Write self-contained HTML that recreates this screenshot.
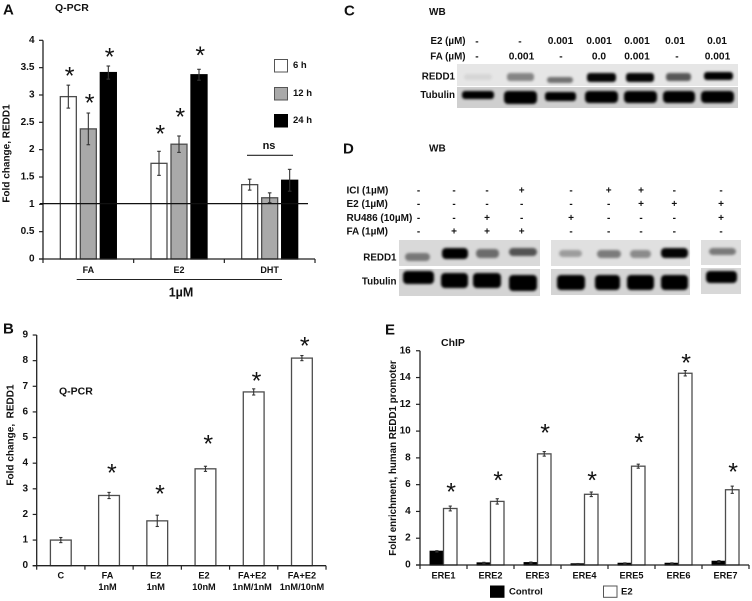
<!DOCTYPE html>
<html lang="en">
<head>
<meta charset="utf-8">
<title>REDD1 figure</title>
<style>
html,body{margin:0;padding:0;background:#fff;}
svg{display:block;font-family:"Liberation Sans",sans-serif;font-weight:bold;fill:#111;filter:blur(0.35px);}
text{dominant-baseline:central;}
.star{font-weight:normal;}
</style>
</head>
<body>
<svg id="figure" width="752" height="601" viewBox="0 0 752 601">
<defs>
<filter id="soft" x="-30%" y="-60%" width="160%" height="220%"><feGaussianBlur stdDeviation="1.3"/></filter>
</defs>

<!-- Panel letters and titles -->
<text x="3" y="10" font-size="15">A</text>
<text x="55" y="8" font-size="10.5">Q-PCR</text>
<text x="3" y="329" font-size="15">B</text>
<text x="59" y="391.5" font-size="10.5">Q-PCR</text>
<text x="344" y="11" font-size="15">C</text>
<text x="429" y="12.5" font-size="10">WB</text>
<text x="343" y="149" font-size="15">D</text>
<text x="429" y="149" font-size="10">WB</text>
<text x="385" y="330" font-size="15">E</text>
<text x="441" y="343" font-size="10.5">ChIP</text>

<!-- Panel C blot -->
<g>
<text x="465.5" y="41.5" font-size="9.8" text-anchor="end">E2 (µM)</text>
<text x="465.5" y="57" font-size="9.8" text-anchor="end">FA (µM)</text>
<g font-size="10.2" text-anchor="middle">
<text x="477" y="42">-</text>
<text x="520" y="42">-</text>
<text x="560.5" y="41.5">0.001</text>
<text x="599" y="41.5">0.001</text>
<text x="637" y="41.5">0.001</text>
<text x="675" y="41.5">0.01</text>
<text x="717" y="41.5">0.01</text>
</g>
<g font-size="10.2" text-anchor="middle">
<text x="477" y="57">-</text>
<text x="521.5" y="57">0.001</text>
<text x="561" y="57">-</text>
<text x="599" y="57">0.0</text>
<text x="637" y="57">0.001</text>
<text x="677" y="57">-</text>
<text x="717.5" y="57">0.001</text>
</g>
<text x="455" y="77" font-size="9.8" text-anchor="end">REDD1</text>
<text x="455" y="95.5" font-size="9.8" text-anchor="end">Tubulin</text>
<rect x="457" y="64" width="281" height="22" fill="#e6e6e6"/>
<rect x="457" y="87" width="281" height="21" fill="#cfcfcf"/>
<g filter="url(#soft)" fill="#000">
<rect x="464" y="74" width="28" height="6" rx="3" opacity=".07"/>
<rect x="507" y="73" width="27" height="8" rx="3" opacity=".42"/>
<rect x="547" y="77" width="26" height="6" rx="3" opacity=".5"/>
<rect x="587" y="73" width="29" height="9" rx="3" opacity=".98"/>
<rect x="626" y="73" width="28" height="9" rx="3" opacity=".98"/>
<rect x="666" y="73" width="25" height="8" rx="3" opacity=".62"/>
<rect x="704" y="72" width="29" height="8" rx="3" opacity="1"/>
</g>
<g filter="url(#soft)" fill="#000">
<rect x="462" y="91" width="32" height="8" rx="3"/>
<rect x="504" y="91" width="33" height="13" rx="4"/>
<rect x="545" y="92" width="31" height="9" rx="3"/>
<rect x="585" y="91" width="33" height="12" rx="4"/>
<rect x="624" y="91" width="33" height="12" rx="4"/>
<rect x="663" y="91" width="32" height="12" rx="4"/>
<rect x="701" y="91" width="33" height="12" rx="4"/>
</g>
</g>

<!-- Panel D blot -->
<g>
<g font-size="10">
<text x="346.5" y="191">ICI (1µM)</text>
<text x="346.5" y="204.7">E2 (1µM)</text>
<text x="346.5" y="218.3">RU486 (10µM)</text>
<text x="346.5" y="232">FA (1µM)</text>
</g>
<g font-size="10" text-anchor="middle">
<text x="418.5" y="191">-</text><text x="454" y="191">-</text><text x="487" y="191">-</text><text x="521.7" y="191">+</text><text x="571" y="191">-</text><text x="608.7" y="191">+</text><text x="641" y="191">+</text><text x="674.3" y="191">-</text><text x="721" y="191">-</text>
<text x="418.5" y="204.7">-</text><text x="454" y="204.7">-</text><text x="487" y="204.7">-</text><text x="521.7" y="204.7">-</text><text x="571" y="204.7">-</text><text x="608.7" y="204.7">-</text><text x="641" y="204.7">+</text><text x="674.3" y="204.7">+</text><text x="721" y="204.7">+</text>
<text x="418.5" y="218.3">-</text><text x="454" y="218.3">-</text><text x="487" y="218.3">+</text><text x="521.7" y="218.3">-</text><text x="571" y="218.3">+</text><text x="608.7" y="218.3">-</text><text x="641" y="218.3">-</text><text x="674.3" y="218.3">-</text><text x="721" y="218.3">+</text>
<text x="418.5" y="232">-</text><text x="454" y="232">+</text><text x="487" y="232">+</text><text x="521.7" y="232">+</text><text x="571" y="232">-</text><text x="608.7" y="232">-</text><text x="641" y="232">-</text><text x="674.3" y="232">-</text><text x="721" y="232">-</text>
</g>
<text x="396.5" y="258" font-size="9.8" text-anchor="end">REDD1</text>
<text x="396.5" y="282" font-size="9.8" text-anchor="end">Tubulin</text>
<rect x="399" y="240" width="141" height="26" fill="#d9d9d9"/>
<rect x="399" y="269" width="141" height="27" fill="#d4d4d4"/>
<rect x="551" y="240" width="139" height="26" fill="#e0e0e0"/>
<rect x="551" y="269" width="139" height="26" fill="#d4d4d4"/>
<rect x="701" y="240" width="40" height="25" fill="#dedede"/>
<rect x="701" y="268" width="40" height="26" fill="#d8d8d8"/>
<g filter="url(#soft)" fill="#000">
<rect x="405" y="253" width="25" height="8" rx="4" opacity=".45"/>
<rect x="442" y="248" width="26" height="11" rx="4" opacity="1"/>
<rect x="476" y="249" width="23" height="9" rx="4" opacity=".5"/>
<rect x="509" y="248" width="28" height="8" rx="4" opacity=".62"/>
<rect x="559" y="250" width="23" height="7" rx="4" opacity=".3"/>
<rect x="597" y="250" width="24" height="8" rx="4" opacity=".45"/>
<rect x="630" y="250" width="21" height="8" rx="4" opacity=".38"/>
<rect x="661" y="248" width="27" height="10" rx="4" opacity=".98"/>
<rect x="709" y="248" width="27" height="7" rx="4" opacity=".45"/>
</g>
<g filter="url(#soft)" fill="#000">
<rect x="403" y="271" width="31" height="13" rx="4"/>
<rect x="441" y="273" width="27" height="15" rx="4"/>
<rect x="473" y="273" width="28" height="15" rx="4"/>
<rect x="509" y="275" width="28" height="16" rx="4"/>
<rect x="557" y="275" width="28" height="15" rx="4"/>
<rect x="595" y="275" width="25" height="15" rx="4"/>
<rect x="627" y="275" width="27" height="15" rx="4"/>
<rect x="661" y="275" width="27" height="15" rx="4"/>
<rect x="706" y="271" width="31" height="12" rx="4"/>
</g>
</g>
</svg>

<script>
// Panel A data
const catsA = ['FA', 'E2', 'DHT'];
const ticksA = [0, 0.5, 1, 1.5, 2, 2.5, 3, 3.5, 4];
const seriesA6h = [2.97, 1.75, 1.36];
const seriesA12h = [2.38, 2.10, 1.12];
const seriesA24h = [3.41, 3.37, 1.44];
const errA6h = [0.21, 0.22, 0.10];
const errA12h = [0.29, 0.15, 0.09];
const errA24h = [0.12, 0.10, 0.20];
const starGapA6h = [0.24, 0.39, null];
const starGapA12h = [0.26, 0.42, null];
const starGapA24h = [0.24, 0.33, null];
const refLevelA = 1;

// Panel B data
const catsB1 = ['C', 'FA', 'E2', 'E2', 'FA+E2', 'FA+E2'];
const catsB2 = ['', '1nM', '1nM', '10nM', '1nM/1nM', '1nM/10nM'];
const ticksB = [0, 1, 2, 3, 4, 5, 6, 7, 8, 9];
const valuesB = [1.0, 2.74, 1.75, 3.78, 6.78, 8.10];
const errB = [0.10, 0.12, 0.22, 0.10, 0.12, 0.10];
const starGapB = [null, 0.91, 0.98, 1.02, 0.46, 0.54];

// Panel E data
const catsE = ['ERE1', 'ERE2', 'ERE3', 'ERE4', 'ERE5', 'ERE6', 'ERE7'];
const ticksE = [0, 2, 4, 6, 8, 10, 12, 14, 16];
const valuesControl = [1.02, 0.15, 0.17, 0.08, 0.12, 0.12, 0.27];
const valuesE2 = [4.22, 4.75, 8.30, 5.28, 7.38, 14.32, 5.62];
const errControl = [0.05, 0.05, 0.05, 0.03, 0.04, 0.04, 0.06];
const errE2 = [0.18, 0.20, 0.17, 0.17, 0.15, 0.20, 0.27];
const starGapE = [1.37, 1.67, 1.69, 1.17, 1.94, 0.88, 1.36];

const NS = 'http://www.w3.org/2000/svg';
const svg = document.getElementById('figure');

function make(tag, attrs, parent) {
  const el = document.createElementNS(NS, tag);
  for (const k in attrs) el.setAttribute(k, attrs[k]);
  parent.appendChild(el);
  return el;
}
function group(name) {
  const g = make('g', {}, svg);
  
  
  return g;
}
function line(parent, x1, y1, x2, y2, name, color, width) {
  const el = make('line', {x1: x1, y1: y1, x2: x2, y2: y2, stroke: color, 'stroke-width': width}, parent);
  
  
  return el;
}
function label(parent, x, y, str, size, anchor, name) {
  const el = make('text', {x: x, y: y, 'font-size': size, 'text-anchor': anchor}, parent);
  el.textContent = str;
  
  
  return el;
}
function drawBar(parent, x, w, yTop, yBase, fill, name) {
  const el = make('rect', {x: x, y: yTop, width: w, height: Math.max(0, yBase - yTop), fill: fill, stroke: fill === '#000' ? '#000' : '#4d4d4d', 'stroke-width': 1.3}, parent);
  
  
  return el;
}
function drawError(parent, cx, yHi, yLo, cap, name) {
  line(parent, cx, yHi, cx, yLo, name, '#333', 1.1);
  line(parent, cx - cap, yHi, cx + cap, yHi, name + '-cap', '#333', 1.1);
  line(parent, cx - cap, yLo, cx + cap, yLo, name + '-cap', '#333', 1.1);
}
function drawStar(parent, cx, cy, name) {
  const el = make('text', {x: cx, y: cy + 4.6, 'font-size': 25, 'text-anchor': 'middle', 'class': 'star'}, parent);
  el.textContent = '*';
  
  
}
function drawAxes(parent, x0, xEnd, y0, ticks, yFn, nCats, bandFn, labelEnd, tickSize) {
  line(parent, x0, yFn(ticks[ticks.length - 1]), x0, y0, 'y-axis-line', '#222', 1.3);
  line(parent, x0 - 4, y0, xEnd, y0, 'x-axis-line', '#222', 1.3);
  ticks.forEach(function (t) {
    line(parent, x0 - 4, yFn(t), x0, yFn(t), 'y-tick', '#222', 1.2);
    label(parent, labelEnd, yFn(t), String(t), tickSize, 'end', 'y-tick-label');
  });
  for (let i = 0; i <= nCats; i++) {
    line(parent, bandFn(i), y0, bandFn(i), y0 + 4, 'x-tick', '#222', 1.2);
  }
}

// ---------- Panel A ----------
const xBandA = function (i) { return 43 + 90.67 * i; };
const yA = function (v) { return 259 - 54.67 * v; };
const gA = group('panel-a-chart');
const seriesDefsA = [
  {vals: seriesA6h, err: errA6h, gap: starGapA6h, fill: '#fff', off: -20, key: '6h'},
  {vals: seriesA12h, err: errA12h, gap: starGapA12h, fill: '#a9a9a9', off: 0, key: '12h'},
  {vals: seriesA24h, err: errA24h, gap: starGapA24h, fill: '#000', off: 20, key: '24h'}
];
seriesDefsA.forEach(function (s) {
  s.vals.forEach(function (v, i) {
    const cx = xBandA(i) + 45.33 + s.off;
    drawBar(gA, cx - 8, 16, yA(v), yA(0), s.fill, 'bar-' + catsA[i].toLowerCase() + '-' + s.key);
    drawError(gA, cx, yA(v + s.err[i]), yA(v - s.err[i]), 1.8, 'error-bar');
    if (s.gap[i] !== null) drawStar(gA, cx + 1.3, yA(v + s.err[i] + s.gap[i]), 'significance-star');
  });
});
drawAxes(gA, 43, 315, yA(0), ticksA, yA, 3, xBandA, 34.5, 10);
line(gA, 40, yA(refLevelA) - 0.7, 308, yA(refLevelA) - 0.7, 'baseline-reference-line', '#111', 1.2);
catsA.forEach(function (c, i) {
  label(gA, xBandA(i) + 45.33, 270, c, 9, 'middle', 'x-category-label');
});
line(gA, 76.7, 279.5, 282, 279.5, 'concentration-bracket', '#222', 1.1);
label(gA, 181, 292.5, '1µM', 12.5, 'middle', 'concentration-label');
label(gA, 269, 146, 'ns', 11, 'middle', 'not-significant-label');
line(gA, 247, 155.3, 293, 155.3, 'not-significant-line', '#222', 1.1);
const ytA = label(gA, 0, 0, 'Fold change, REDD1', 10, 'middle', 'y-axis-title');
ytA.setAttribute('transform', 'translate(7 153.5) rotate(-90)');

[['#fff', 59, '6 h', 'legend-6h'], ['#a9a9a9', 87, '12 h', 'legend-12h'], ['#000', 114, '24 h', 'legend-24h']].forEach(function (d) {
  const sw = make('rect', {x: 274.5, y: d[1] + 0.5, width: 13, height: 12.5, fill: d[0], stroke: d[0] === '#000' ? '#000' : '#555', 'stroke-width': 1}, gA);
  
  
  label(gA, 293, d[1] + 6.5, d[2], 9.5, 'start', d[3] + '-label');
});

// ---------- Panel B ----------
const xBandB = function (i) { return 36.7 + 48.22 * i; };
const yB = function (v) { return 565.7 - 25.63 * v; };
const gB = group('panel-b-chart');
valuesB.forEach(function (v, i) {
  const cx = xBandB(i) + 24.11;
  drawBar(gB, cx - 10.4, 20.8, yB(v), yB(0), '#fff', 'bar-treatment-' + i);
  drawError(gB, cx, yB(v + errB[i]), yB(v - errB[i]), 1.6, 'error-bar');
  if (starGapB[i] !== null) drawStar(gB, cx + 2.8, yB(v + errB[i] + starGapB[i]), 'significance-star');
});
drawAxes(gB, 36.7, 326, yB(0), ticksB, yB, 6, xBandB, 28, 10);
catsB1.forEach(function (c, i) {
  const cx = xBandB(i) + 24.11 - (i === 0 ? 0 : (i === 5 ? 0 : 1.5));
  label(gB, cx, 575.7, c, 9.2, 'middle', 'x-category-label');
  if (catsB2[i]) label(gB, cx, 587, catsB2[i], 9.2, 'middle', 'x-category-dose-label');
});
const ytB = label(gB, 0, 0, 'Fold change,  REDD1', 10, 'middle', 'y-axis-title');
ytB.setAttribute('transform', 'translate(11 435) rotate(-90)');
ytB.style.whiteSpace = 'pre';

// ---------- Panel E ----------
const xBandE = function (i) { return 420 + 47 * i; };
const yE = function (v) { return 565 - 13.39 * v; };
const gE = group('panel-e-chart');
catsE.forEach(function (c, i) {
  const mid = xBandE(i) + 23.5;
  drawBar(gE, mid - 13.3, 13.3, yE(valuesControl[i]), yE(0), '#000', 'bar-control-' + c.toLowerCase());
  drawBar(gE, mid, 13.5, yE(valuesE2[i]), yE(0), '#fff', 'bar-e2-' + c.toLowerCase());
  drawError(gE, mid - 6.6, yE(valuesControl[i] + errControl[i]), yE(Math.max(0, valuesControl[i] - errControl[i])), 1.6, 'error-bar');
  drawError(gE, mid + 6.75, yE(valuesE2[i] + errE2[i]), yE(valuesE2[i] - errE2[i]), 1.6, 'error-bar');
  drawStar(gE, mid + 7.6, yE(valuesE2[i] + errE2[i] + starGapE[i]), 'significance-star');
  label(gE, mid, 575.7, c, 9.2, 'middle', 'x-category-label');
});
drawAxes(gE, 420, 749, yE(0), ticksE, yE, 7, xBandE, 410.7, 10);
const ytE = label(gE, 0, 0, 'Fold enrichment, human REDD1 promoter', 9.8, 'middle', 'y-axis-title');
ytE.setAttribute('transform', 'translate(393.3 458) rotate(-90)');

const swC = make('rect', {x: 490.5, y: 586, width: 13.5, height: 11.3, fill: '#000', stroke: '#000'}, gE);


label(gE, 509, 592, 'Control', 9.5, 'start', 'legend-control-label');
const swE = make('rect', {x: 603.5, y: 586, width: 13.5, height: 11.3, fill: '#fff', stroke: '#555'}, gE);


label(gE, 621, 592, 'E2', 9.5, 'start', 'legend-e2-label');
</script>
</body>
</html>
